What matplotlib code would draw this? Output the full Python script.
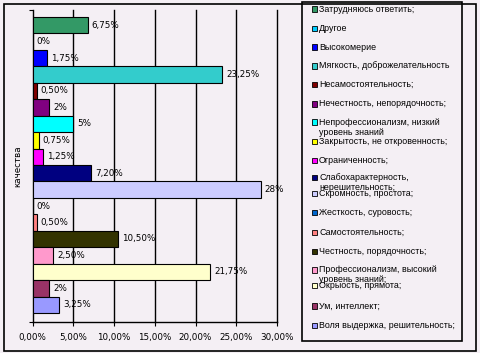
import matplotlib
matplotlib.use("Agg")
import matplotlib.pyplot as plt
from matplotlib.patches import Rectangle
import numpy as np

categories = [
    "Затрудняюсь ответить;",
    "Другое",
    "Высокомерие",
    "Мягкость, доброжелательность",
    "Несамостоятельность;",
    "Нечестность, непорядочность;",
    "Непрофессионализм, низкий\nуровень знаний",
    "Закрытость, не откровенность;",
    "Ограниченность;",
    "Слабохарактерность,\nнерешительность;",
    "Скромность, простота;",
    "Жесткость, суровость;",
    "Самостоятельность;",
    "Честность, порядочность;",
    "Профессионализм, высокий\nуровень знаний;",
    "Окрыость, прямота;",
    "Ум, интеллект;",
    "Воля выдержка, решительность;",
]
values = [6.75, 0, 1.75, 23.25, 0.5, 2, 5, 0.75, 1.25, 7.2, 28, 0, 0.5, 10.5, 2.5, 21.75, 2, 3.25]
value_labels = ["6,75%", "0%", "1,75%", "23,25%", "0,50%", "2%", "5%", "0,75%", "1,25%",
                "7,20%", "28%", "0%", "0,50%", "10,50%", "2,50%", "21,75%", "2%", "3,25%"]
colors = ["#339966", "#00CCFF", "#0000FF", "#33CCCC", "#800000", "#800080", "#00FFFF",
          "#FFFF00", "#FF00FF", "#000080", "#CCCCFF", "#0066CC", "#FF8080", "#333300",
          "#FF99CC", "#FFFFCC", "#993366", "#9999FF"]
xticks = [0, 5, 10, 15, 20, 25, 30]
xtick_labels = ["0,00%", "5,00%", "10,00%", "15,00%", "20,00%", "25,00%", "30,00%"]
ylabel = "качества"

W, H = 480, 353
BG = "#F4EFF4"
fig = plt.figure(figsize=(W / 100, H / 100), dpi=100, facecolor=BG)

def fx(px):
    return px / W

def fy(py):
    return 1 - py / H

ax = fig.add_axes([fx(32.5), fy(322), fx(277) - fx(32.5), fy(10) - fy(322)])
ax.set_facecolor(BG)

n = len(values)
pos = np.arange(n)
ax.barh(pos, values, height=1.0, color=colors, edgecolor="black", linewidth=0.8, zorder=3)
ax.set_xlim(0, 30)
ax.set_ylim(n - 1 + 1.05, -0.925)

for p, v, lab in zip(pos, values, value_labels):
    ax.annotate(lab, (v, p), xytext=(3, 0), textcoords="offset points",
                va="center", ha="left", fontsize=6.3, color="black", zorder=4)

for x in xticks[1:]:
    ax.axvline(x, color="black", linewidth=1.0, zorder=1, clip_on=False)

ax.set_xticks(xticks)
ax.set_xticklabels(xtick_labels, fontsize=6.3)
ax.tick_params(axis="x", direction="out", length=3, width=0.8, pad=5)
ax.set_yticks(list(ax.get_ylim()))
ax.set_yticklabels([])
ax.tick_params(axis="y", direction="out", length=3, width=0.8)
for s in ["top", "right"]:
    ax.spines[s].set_visible(False)
ax.spines["left"].set_linewidth(1.0)
ax.spines["bottom"].set_linewidth(1.0)
ax.set_ylabel(ylabel, fontsize=6.3, labelpad=1)

# outer frame
fig.patches.append(Rectangle((fx(3.5), fy(351)), fx(476) - fx(3.5), fy(3.5) - fy(351),
                             transform=fig.transFigure, fill=False, edgecolor="black",
                             linewidth=1.2))
# legend frame
fig.patches.append(Rectangle((fx(301.5), fy(341)), fx(461.5) - fx(301.5), fy(2) - fy(341),
                             transform=fig.transFigure, fill=False, edgecolor="black",
                             linewidth=1.2))

legend_y = [9, 28.3, 47, 66, 84.3, 104, 122.3, 141.3, 160.7, 177.5, 193.7, 212.3,
            232.3, 251.7, 270, 285.7, 306, 325.7]
for ly, lab, c in zip(legend_y, categories, colors):
    fig.patches.append(Rectangle((fx(311.5), fy(ly + 2.7)), fx(5.5), fy(0) - fy(5.5),
                                 transform=fig.transFigure, facecolor=c,
                                 edgecolor="black", linewidth=0.6))
    for k, line in enumerate(lab.split("\n")):
        fig.text(fx(319), fy(ly + k * 10), line, fontsize=6.4,
                 family=["Liberation Sans", "DejaVu Sans"], va="center", ha="left")

fig.savefig("out.png", dpi=100, facecolor=BG)
